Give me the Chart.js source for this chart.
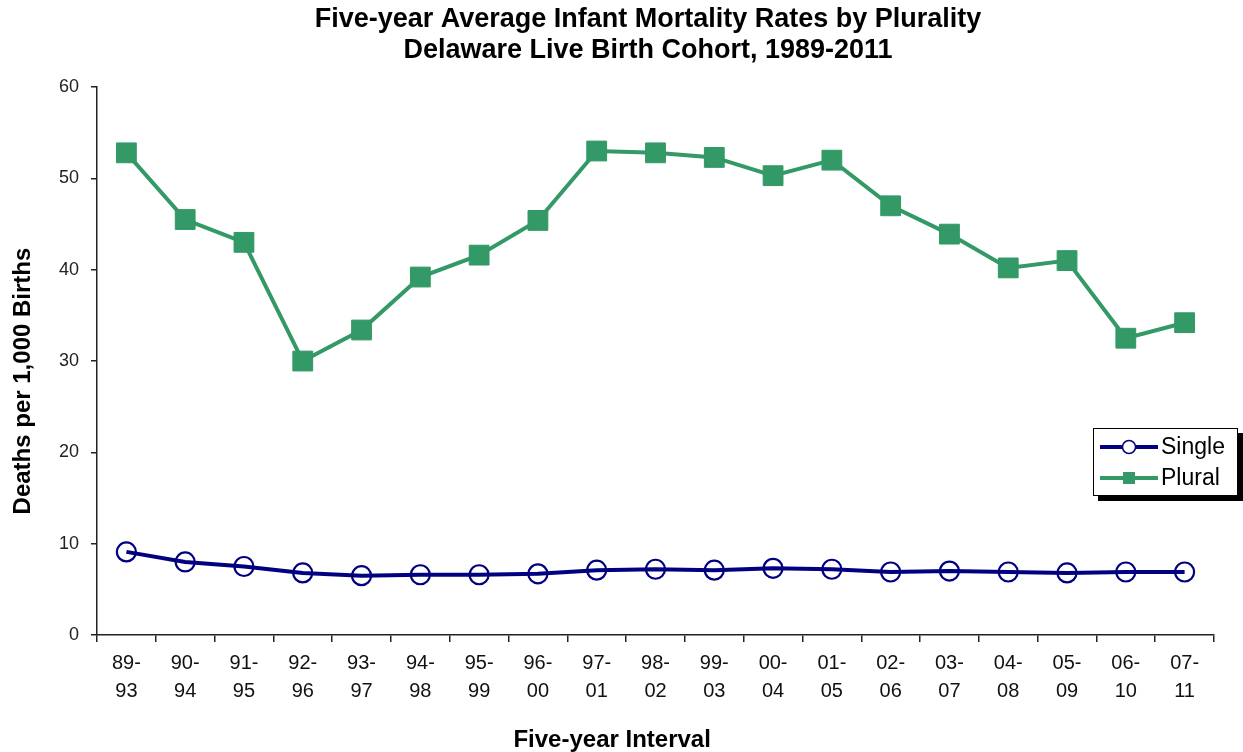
<!DOCTYPE html>
<html lang="en">
<head>
    <meta charset="UTF-8">
    <title>Five-year Average Infant Mortality Rates by Plurality</title>
    <style>
        body {
            margin: 0;
            background: white;
            font-family: "Liberation Sans", Arial, sans-serif;
        }
        #wrap {
            position: relative;
            width: 1243px;
            height: 752px;
        }
        #legenda {
            position: absolute;
            left: 1093px;
            top: 428px;
            width: 143px;
            height: 66px;
            border: 1px solid #000;
            background: white;
            box-shadow: 5px 5px 0 #000;
            font-size: 23px;
            color: #000;
        }
        .item {
            display: flex;
            align-items: center;
            height: 31px;
            margin-left: 6px;
        }
        .item svg { margin-right: 3px; }
    </style>
</head>
<body>
    <div id="wrap">
        <canvas id="grafico" width="1243" height="752"></canvas>
        <!-- legenda dentro da área do gráfico -->
        <div id="legenda">
            <div class="item" style="margin-top:2px">
                <svg width="58" height="20"><line x1="0" y1="10" x2="58" y2="10" stroke="#000080" stroke-width="4"/><circle cx="29" cy="10" r="6.5" fill="white" stroke="#000080" stroke-width="1.5"/></svg>Single
            </div>
            <div class="item">
                <svg width="58" height="20"><line x1="0" y1="10" x2="58" y2="10" stroke="#339966" stroke-width="4"/><rect x="23" y="4" width="12" height="12" fill="#339966"/></svg>Plural
            </div>
        </div>
    </div>

    <script src="https://cdn.jsdelivr.net/npm/chart.js"></script>
    <script>
        // dados
        const intervalos = [
            ['89-','93'], ['90-','94'], ['91-','95'], ['92-','96'], ['93-','97'],
            ['94-','98'], ['95-','99'], ['96-','00'], ['97-','01'], ['98-','02'],
            ['99-','03'], ['00-','04'], ['01-','05'], ['02-','06'], ['03-','07'],
            ['04-','08'], ['05-','09'], ['06-','10'], ['07-','11']
        ];
        const single = [9.1, 8.0, 7.5, 6.8, 6.5, 6.6, 6.6, 6.7, 7.1, 7.2, 7.1, 7.3, 7.2, 6.9, 7.0, 6.9, 6.8, 6.9, 6.9];
        const plural = [52.8, 45.5, 43.0, 30.0, 33.4, 39.2, 41.6, 45.4, 53.0, 52.8, 52.3, 50.3, 52.0, 47.0, 43.9, 40.2, 41.0, 32.5, 34.2];
        const yTicks = [0, 10, 20, 30, 40, 50, 60];

        const fonte = '"Liberation Sans", Arial, sans-serif';

        // o título do original fica um pouco à direita do centro
        const moverTitulo = {
            id: 'moverTitulo',
            afterLayout(chart) {
                if (chart.titleBlock) chart.titleBlock.left += 82;
            }
        };

        const ctx = document.getElementById('grafico').getContext('2d');
        const grafico = new Chart(ctx, {
            type: 'line',
            data: {
                labels: intervalos,
                datasets: [{
                    label: 'Single',
                    data: single,
                    borderColor: '#000080',
                    borderWidth: 4,
                    pointStyle: 'circle',
                    pointRadius: 9.5,
                    pointBorderWidth: 2.2,
                    pointBackgroundColor: 'rgba(255,255,255,0)',
                    pointBorderColor: '#000080',
                    tension: 0
                }, {
                    label: 'Plural',
                    data: plural,
                    borderColor: '#339966',
                    borderWidth: 4,
                    pointStyle: 'rect',
                    pointRadius: 14,
                    pointBorderWidth: 1,
                    pointBackgroundColor: '#339966',
                    pointBorderColor: '#339966',
                    tension: 0
                }]
            },
            plugins: [moverTitulo],
            options: {
                responsive: false,
                animation: false,
                layout: { padding: { left: 0, right: 29, top: 0, bottom: 0 } },
                plugins: {
                    legend: { display: false },
                    tooltip: { enabled: false },
                    title: {
                        display: true,
                        text: ['Five-year Average Infant Mortality Rates by Plurality', 'Delaware Live Birth Cohort, 1989-2011'],
                        color: '#000',
                        font: { family: fonte, size: 27, weight: 'bold', lineHeight: 1.15 },
                        padding: { top: 4, bottom: 21 }
                    }
                },
                scales: {
                    x: {
                        offset: true,
                        grid: { offset: true, drawOnChartArea: false, drawTicks: true, tickLength: 7, color: '#222', lineWidth: 1.5 },
                        border: { color: '#222', width: 1.5 },
                        ticks: { color: '#111', font: { family: fonte, size: 20, lineHeight: 1.4 }, padding: 7, maxRotation: 0, autoSkip: false },
                        title: { display: true, text: 'Five-year Interval' + ' '.repeat(13), color: '#000', font: { family: fonte, size: 24, weight: 'bold', lineHeight: 1.0 }, padding: { top: 0, bottom: 0 } },
                        afterFit: (s) => { s.height = 117; }
                    },
                    y: {
                        min: 0,
                        max: 60,
                        afterBuildTicks: (s) => { s.ticks = yTicks.map(v => ({ value: v })); },
                        grid: { drawOnChartArea: false, drawTicks: true, tickLength: 6, color: '#222', lineWidth: 1.5 },
                        border: { color: '#222', width: 1.5 },
                        ticks: { color: '#222', font: { family: fonte, size: 18 }, padding: 12 },
                        title: { display: true, text: 'Deaths per 1,000 Births' + ' '.repeat(6), color: '#000', font: { family: fonte, size: 24, weight: 'bold' }, padding: { top: 9, bottom: 0 } },
                        afterFit: (s) => { s.width = 97; }
                    }
                }
            }
        });
    </script>
</body>
</html>
